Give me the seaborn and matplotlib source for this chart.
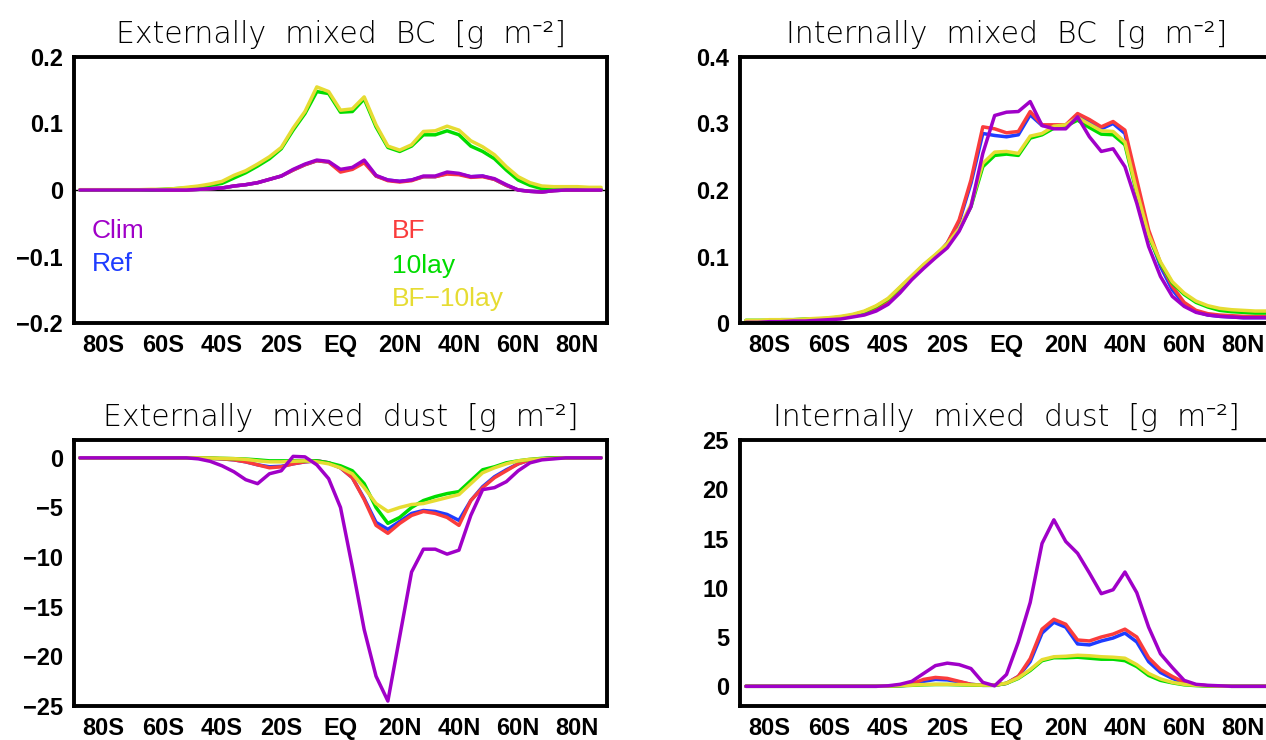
import pandas as pd
import matplotlib
matplotlib.use("Agg")
import matplotlib.pyplot as plt
import seaborn as sns

# -------------------------
# Data (zonal means, 4 deg latitude grid)
# -------------------------
LAT = [-88, -84, -80, -76, -72, -68, -64, -60, -56, -52, -48, -44, -40, -36, -32,
       -28, -24, -20, -16, -12, -8, -4, 0, 4, 8, 12, 16, 20, 24, 28,
       32, 36, 40, 44, 48, 52, 56, 60, 64, 68, 72, 76, 80, 84, 88]

# Externally mixed BC
ext_bc_clim = [0, 0, 0, 0, 0, 0, 0, 0, 0, 0, 0.001, 0.002, 0.003, 0.006, 0.008,
               0.011, 0.016, 0.021, 0.031, 0.039, 0.045, 0.043, 0.031, 0.034, 0.045, 0.022, 0.015, 0.013, 0.015, 0.021,
               0.021, 0.027, 0.025, 0.020, 0.021, 0.017, 0.008, 0.000, -0.002, -0.003, -0.001, 0, 0, 0, 0]
ext_bc_ref = [0, 0, 0, 0, 0, 0, 0, 0, 0, 0, 0.001, 0.002, 0.003, 0.006, 0.008,
              0.011, 0.016, 0.021, 0.030, 0.038, 0.044, 0.042, 0.029, 0.032, 0.043, 0.021, 0.015, 0.013, 0.015, 0.020,
              0.020, 0.025, 0.024, 0.020, 0.021, 0.016, 0.007, 0.000, -0.002, -0.003, -0.001, 0, 0, 0, 0]
ext_bc_bf = [0, 0, 0, 0, 0, 0, 0, 0, 0, 0, 0.001, 0.002, 0.003, 0.006, 0.008,
             0.011, 0.016, 0.021, 0.030, 0.038, 0.044, 0.042, 0.027, 0.031, 0.041, 0.021, 0.014, 0.012, 0.014, 0.020,
             0.020, 0.024, 0.023, 0.019, 0.020, 0.016, 0.007, 0.000, -0.002, -0.003, -0.001, 0, 0, 0, 0]
ext_bc_10lay = [0, 0, 0, 0, 0, 0, 0, 0.001, 0.002, 0.003, 0.005, 0.007, 0.010, 0.018, 0.026,
                0.036, 0.047, 0.062, 0.090, 0.115, 0.148, 0.145, 0.117, 0.118, 0.137, 0.095, 0.064, 0.058, 0.066, 0.083,
                0.083, 0.089, 0.083, 0.066, 0.058, 0.047, 0.030, 0.015, 0.007, 0.002, 0.001, 0.001, 0.001, 0.001, 0.001]
ext_bc_bf10 = [0.0005, 0.0005, 0.0005, 0.0005, 0.0005, 0.0005, 0.001, 0.001, 0.002, 0.004, 0.006, 0.009, 0.013, 0.022, 0.029,
               0.039, 0.050, 0.064, 0.093, 0.118, 0.155, 0.148, 0.120, 0.122, 0.140, 0.098, 0.066, 0.060, 0.068, 0.088,
               0.089, 0.096, 0.090, 0.074, 0.065, 0.053, 0.035, 0.020, 0.011, 0.006, 0.005, 0.005, 0.005, 0.004, 0.004]

# Internally mixed BC
int_bc_clim = [0.001, 0.001, 0.002, 0.002, 0.003, 0.003, 0.004, 0.005, 0.006, 0.009, 0.012, 0.018, 0.028, 0.045, 0.065,
               0.082, 0.098, 0.113, 0.138, 0.175, 0.255, 0.312, 0.317, 0.318, 0.333, 0.297, 0.292, 0.292, 0.310, 0.280,
               0.258, 0.262, 0.235, 0.180, 0.115, 0.070, 0.040, 0.025, 0.016, 0.012, 0.010, 0.009, 0.008, 0.008, 0.008]
int_bc_ref = [0.002, 0.002, 0.003, 0.003, 0.004, 0.004, 0.005, 0.006, 0.008, 0.011, 0.015, 0.022, 0.032, 0.050, 0.068,
              0.085, 0.100, 0.120, 0.152, 0.210, 0.285, 0.282, 0.280, 0.283, 0.313, 0.297, 0.297, 0.297, 0.312, 0.302,
              0.292, 0.300, 0.285, 0.205, 0.135, 0.085, 0.050, 0.028, 0.017, 0.012, 0.010, 0.009, 0.008, 0.008, 0.008]
int_bc_bf = [0.002, 0.002, 0.003, 0.003, 0.004, 0.004, 0.005, 0.006, 0.008, 0.011, 0.015, 0.022, 0.032, 0.050, 0.068,
             0.085, 0.100, 0.120, 0.155, 0.215, 0.295, 0.292, 0.286, 0.288, 0.318, 0.298, 0.298, 0.298, 0.315, 0.306,
             0.295, 0.303, 0.290, 0.215, 0.140, 0.090, 0.055, 0.031, 0.019, 0.014, 0.012, 0.011, 0.010, 0.010, 0.010]
int_bc_10lay = [0.004, 0.004, 0.004, 0.005, 0.005, 0.006, 0.006, 0.007, 0.009, 0.012, 0.017, 0.025, 0.036, 0.053, 0.070,
                0.087, 0.102, 0.118, 0.140, 0.175, 0.235, 0.252, 0.254, 0.252, 0.278, 0.283, 0.293, 0.296, 0.305, 0.294,
                0.284, 0.283, 0.268, 0.195, 0.130, 0.090, 0.060, 0.043, 0.031, 0.024, 0.019, 0.017, 0.016, 0.015, 0.015]
int_bc_bf10 = [0.004, 0.004, 0.005, 0.005, 0.005, 0.006, 0.007, 0.008, 0.010, 0.013, 0.018, 0.026, 0.037, 0.054, 0.071,
               0.088, 0.103, 0.119, 0.142, 0.178, 0.240, 0.257, 0.258, 0.255, 0.281, 0.285, 0.296, 0.298, 0.309, 0.299,
               0.289, 0.288, 0.272, 0.198, 0.133, 0.092, 0.062, 0.045, 0.033, 0.026, 0.022, 0.020, 0.019, 0.018, 0.018]

# Externally mixed dust
ext_dust_clim = [0, 0, 0, 0, 0, 0, 0, 0, 0, 0, -0.1, -0.35, -0.8, -1.4, -2.2,
                 -2.6, -1.6, -1.3, 0.15, 0.1, -0.7, -2.1, -5.0, -11.0, -17.3, -22.0, -24.5, -18.0, -11.5, -9.2,
                 -9.2, -9.7, -9.3, -5.8, -3.2, -3.0, -2.4, -1.3, -0.5, -0.2, -0.1, 0, 0, 0, 0]
ext_dust_ref = [0, 0, 0, 0, 0, 0, 0, 0, 0, 0, 0, -0.05, -0.1, -0.2, -0.4,
                -0.7, -0.9, -0.85, -0.6, -0.4, -0.3, -0.5, -1.0, -2.0, -4.1, -6.5, -7.2, -6.4, -5.6, -5.3,
                -5.4, -5.7, -6.3, -4.3, -2.9, -1.9, -1.2, -0.6, -0.2, -0.1, 0, 0, 0, 0, 0]
ext_dust_bf = [0, 0, 0, 0, 0, 0, 0, 0, 0, 0, 0, -0.05, -0.1, -0.2, -0.4,
               -0.7, -1.0, -0.9, -0.6, -0.4, -0.3, -0.5, -1.0, -2.0, -4.2, -6.8, -7.6, -6.6, -5.8, -5.4,
               -5.6, -6.0, -6.8, -4.3, -3.0, -2.0, -1.3, -0.6, -0.2, -0.1, 0, 0, 0, 0, 0]
ext_dust_10lay = [0, 0, 0, 0, 0, 0, 0, 0, 0, 0, 0, -0.02, -0.05, -0.08, -0.12,
                  -0.2, -0.3, -0.3, -0.3, -0.3, -0.3, -0.5, -0.8, -1.3, -2.6, -5.0, -6.6, -6.0, -5.0, -4.3,
                  -3.9, -3.6, -3.4, -2.3, -1.2, -0.9, -0.5, -0.3, -0.15, -0.05, 0, 0, 0, 0, 0]
ext_dust_bf10 = [0, 0, 0, 0, 0, 0, 0, 0, 0, 0, 0, -0.02, -0.05, -0.08, -0.15,
                 -0.3, -0.4, -0.4, -0.35, -0.3, -0.4, -0.6, -1.0, -1.6, -3.0, -4.6, -5.4, -5.0, -4.7, -4.6,
                 -4.3, -4.0, -3.7, -2.6, -1.5, -1.0, -0.6, -0.3, -0.15, -0.1, -0.05, 0, 0, 0, 0]

# Internally mixed dust
int_dust_clim = [0, 0, 0, 0, 0, 0, 0, 0, 0, 0, 0, 0, 0.05, 0.2, 0.5,
                 1.3, 2.1, 2.35, 2.2, 1.8, 0.4, 0.05, 1.2, 4.5, 8.5, 14.5, 16.9, 14.7, 13.5, 11.5,
                 9.4, 9.8, 11.6, 9.5, 6.0, 3.3, 1.9, 0.6, 0.2, 0.1, 0.05, 0, 0, 0, 0]
int_dust_ref = [0, 0, 0, 0, 0, 0, 0, 0, 0, 0, 0, 0, 0.02, 0.05, 0.15,
                0.5, 0.7, 0.65, 0.45, 0.2, 0.1, 0.1, 0.3, 1.0, 2.5, 5.4, 6.5, 6.0, 4.3, 4.2,
                4.6, 4.9, 5.4, 4.5, 2.5, 1.4, 0.8, 0.35, 0.12, 0.05, 0.02, 0, 0, 0, 0]
int_dust_bf = [0, 0, 0, 0, 0, 0, 0, 0, 0, 0, 0, 0, 0.02, 0.1, 0.25,
               0.7, 0.9, 0.8, 0.5, 0.2, 0.1, 0.1, 0.3, 1.0, 2.8, 5.8, 6.8, 6.3, 4.7, 4.6,
               5.0, 5.3, 5.8, 5.0, 2.9, 1.7, 1.0, 0.4, 0.15, 0.05, 0.02, 0, 0, 0, 0]
int_dust_10lay = [0, 0, 0, 0, 0, 0, 0, 0, 0, 0, 0, 0, 0.02, 0.05, 0.1,
                  0.15, 0.18, 0.18, 0.15, 0.12, 0.1, 0.1, 0.3, 0.8, 1.6, 2.6, 2.9, 2.9, 2.95, 2.85,
                  2.75, 2.75, 2.6, 2.0, 1.1, 0.6, 0.35, 0.15, 0.07, 0.02, 0.01, 0, 0, 0, 0]
int_dust_bf10 = [0, 0, 0, 0, 0, 0, 0, 0, 0, 0, 0, 0, 0.03, 0.07, 0.12,
                 0.18, 0.2, 0.2, 0.18, 0.14, 0.12, 0.12, 0.32, 0.85, 1.7, 2.7, 3.0, 3.05, 3.15, 3.1,
                 3.0, 2.95, 2.85, 2.2, 1.3, 0.75, 0.4, 0.2, 0.1, 0.05, 0.02, 0, 0, 0, 0]

EXPERIMENTS = ["Clim", "Ref", "BF", "10lay", "BF-10lay"]
DRAW_ORDER = ["Ref", "BF", "10lay", "BF-10lay", "Clim"]
COLORS = {"Clim": "#a000c8", "Ref": "#1e3cff", "BF": "#fa3c3c",
          "10lay": "#00dc00", "BF-10lay": "#e6dc32"}

XTICKS = [-80, -60, -40, -20, 0, 20, 40, 60, 80]
XTICKLABELS = ["80S", "60S", "40S", "20S", "EQ", "20N", "40N", "60N", "80N"]

TICK_FONT = "Liberation Sans"
TITLE_FONT = ["DejaVu Sans", "Noto Sans", "Liberation Sans"]


def to_long(series):
    frames = []
    for name, values in zip(EXPERIMENTS, series):
        frames.append(pd.DataFrame({"lat": LAT, "value": values, "exp": name}))
    return pd.concat(frames, ignore_index=True)


PANELS = [
    {"title": "Externally  mixed  BC  [g  m⁻²]",
     "series": [ext_bc_clim, ext_bc_ref, ext_bc_bf, ext_bc_10lay, ext_bc_bf10],
     "ylim": (-0.2, 0.2), "yticks": [-0.2, -0.1, 0, 0.1, 0.2],
     "yticklabels": ["−0.2", "−0.1", "0", "0.1", "0.2"], "zero_line": True},
    {"title": "Internally  mixed  BC  [g  m⁻²]",
     "series": [int_bc_clim, int_bc_ref, int_bc_bf, int_bc_10lay, int_bc_bf10],
     "ylim": (0, 0.4), "yticks": [0, 0.1, 0.2, 0.3, 0.4],
     "yticklabels": ["0", "0.1", "0.2", "0.3", "0.4"], "zero_line": False},
    {"title": "Externally  mixed  dust  [g  m⁻²]",
     "series": [ext_dust_clim, ext_dust_ref, ext_dust_bf, ext_dust_10lay, ext_dust_bf10],
     "ylim": (-25, 1.8), "yticks": [-25, -20, -15, -10, -5, 0],
     "yticklabels": ["−25", "−20", "−15", "−10", "−5", "0"], "zero_line": False},
    {"title": "Internally  mixed  dust  [g  m⁻²]",
     "series": [int_dust_clim, int_dust_ref, int_dust_bf, int_dust_10lay, int_dust_bf10],
     "ylim": (-2, 25), "yticks": [0, 5, 10, 15, 20, 25],
     "yticklabels": ["0", "5", "10", "15", "20", "25"], "zero_line": False},
]

# axes boxes in pixels: left, top, right, bottom
W, H = 1266, 740
BOXES = [(74, 57, 607, 323), (740, 57, 1273, 323),
         (74, 440, 607, 706), (740, 440, 1273, 706)]


# -------------------------
# One panel
# -------------------------
def draw_panel(ax, panel):

    df = to_long(panel["series"])

    if panel["zero_line"]:
        ax.axhline(0, color="black", lw=1.0, zorder=1)

    sns.lineplot(data=df, x="lat", y="value", hue="exp", hue_order=DRAW_ORDER,
                 palette=COLORS, linewidth=2.5, estimator=None, sort=False,
                 legend=False, ax=ax)

    ax.set_xlim(-90, 90)
    ax.set_ylim(*panel["ylim"])
    ax.set_xticks(XTICKS)
    ax.set_xticklabels(XTICKLABELS, fontfamily=TICK_FONT, fontweight="bold",
                       fontsize=17, color="black")
    ax.set_yticks(panel["yticks"])
    ax.set_yticklabels(panel["yticklabels"], fontfamily=TICK_FONT, fontweight="bold",
                       fontsize=17, color="black")
    ax.set_xlabel("")
    ax.set_ylabel("")
    ax.tick_params(direction="out", length=5, width=1.6, pad=3, color="black",
                   top=False, right=False)
    for side in ax.spines.values():
        side.set_visible(True)
        side.set_linewidth(2.8)
        side.set_color("black")
    ax.set_title(panel["title"], fontfamily=TITLE_FONT, fontweight="light",
                 fontsize=21.5, pad=10, color="black")


# -------------------------
# MAIN
# -------------------------
def main():

    sns.set_style("white")

    fig = plt.figure(figsize=(W / 100, H / 100), dpi=100)

    axes = []
    for (l, t, r, b), panel in zip(BOXES, PANELS):
        ax = fig.add_axes([l / W, 1 - b / H, (r - l) / W, (b - t) / H])
        draw_panel(ax, panel)
        axes.append(ax)

    # experiment names written inside the first panel
    ax = axes[0]
    labels = [("Clim", -84, -0.062), ("Ref", -84, -0.111),
              ("BF", 17.5, -0.062), ("10lay", 17.5, -0.114), ("BF−10lay", 17.5, -0.164)]
    for (text, x, y), key in zip(labels, EXPERIMENTS):
        ax.text(x, y, text, color=COLORS[key], fontfamily=TICK_FONT,
                fontsize=19, ha="left", va="center")

    fig.savefig("out.png", dpi=100)


if __name__ == "__main__":
    main()
